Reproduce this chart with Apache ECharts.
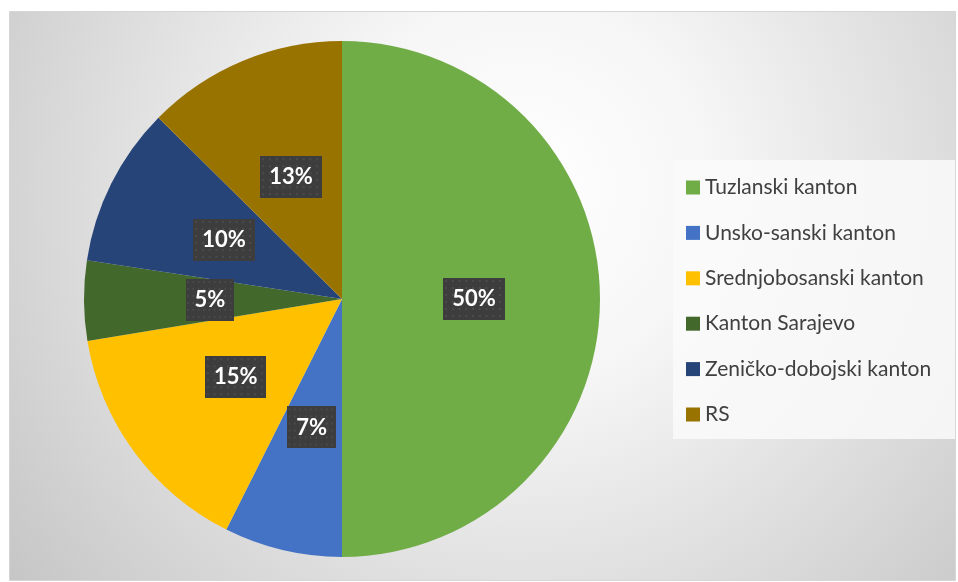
<!DOCTYPE html>
<html lang="bs">
<head>
<meta charset="utf-8">
</head>
<body style="margin:0; background:#ffffff">
<div id="container" style="width:958px; height:582px"></div>
<script src="https://cdn.jsdelivr.net/npm/echarts@6/dist/echarts.min.js"></script>
<script>
var categories = ['Tuzlanski kanton', 'Unsko-sanski kanton', 'Srednjobosanski kanton',
                  'Kanton Sarajevo', 'Zeničko-dobojski kanton', 'RS'];
var shares = [50, 7.4, 15, 5, 10, 12.6];
var colors = ['#70AD47', '#4472C4', '#FFC000', '#43682B', '#264478', '#997300'];

// dotted dark fill for the data labels
function dotPattern(w, h) {
  var c = document.createElement('canvas');
  c.width = w; c.height = h;
  var ctx = c.getContext('2d');
  ctx.fillStyle = '#3d3d3d';
  ctx.fillRect(0, 0, w, h);
  ctx.fillStyle = '#4c4c4c';
  for (var y = 2; y < h; y += 7) {
    for (var x = 2; x < w; x += 7) {
      ctx.fillRect(x, y, 2, 2);
    }
  }
  return c;
}
var pattern = dotPattern(64, 42);

var myChart = echarts.init(document.getElementById('container'));

var option = {
  animation: false,
  graphic: [{
    type: 'rect',
    shape: { x: 9.5, y: 11.5, width: 946, height: 569 },
    style: {
      fill: {
        type: 'radial', x: 520, y: 190, r: 640, global: true,
        colorStops: [
          { offset: 0, color: '#ffffff' },
          { offset: 0.3, color: '#f6f6f6' },
          { offset: 1, color: '#c6c6c6' }
        ]
      },
      stroke: '#d6d6d6',
      lineWidth: 1
    },
    z: -10
  }],
  legend: {
    orient: 'vertical',
    left: 673,
    top: 160,
    padding: [17, 24, 14, 13],
    itemGap: 24.4,
    itemWidth: 14,
    itemHeight: 14,
    icon: 'rect',
    backgroundColor: 'rgba(250,250,250,0.85)',
    textStyle: {
      fontFamily: 'Lato',
      fontSize: 21,
      lineHeight: 20,
      color: '#404040'
    },
    data: categories
  },
  series: [{
    type: 'pie',
    center: [342, 299],
    radius: 258,
    startAngle: 90,
    clockwise: true,
    silent: true,
    percentPrecision: 0,
    label: {
      show: true,
      position: 'inside',
      formatter: '{d}%',
      fontFamily: 'Lato',
      fontWeight: 'bold',
      fontSize: 22,
      lineHeight: 24,
      color: '#ffffff',
      backgroundColor: { image: pattern },
      padding: [9, 9],
      shadowColor: 'rgba(0,0,0,0.45)',
      shadowBlur: 4,
      shadowOffsetX: 3,
      shadowOffsetY: 3
    },
    labelLine: { show: false },
    data: categories.map(function (name, i) {
      return { name: name, value: shares[i], itemStyle: { color: colors[i] } };
    })
  }]
};

myChart.setOption(option);
</script>
</body>
</html>
